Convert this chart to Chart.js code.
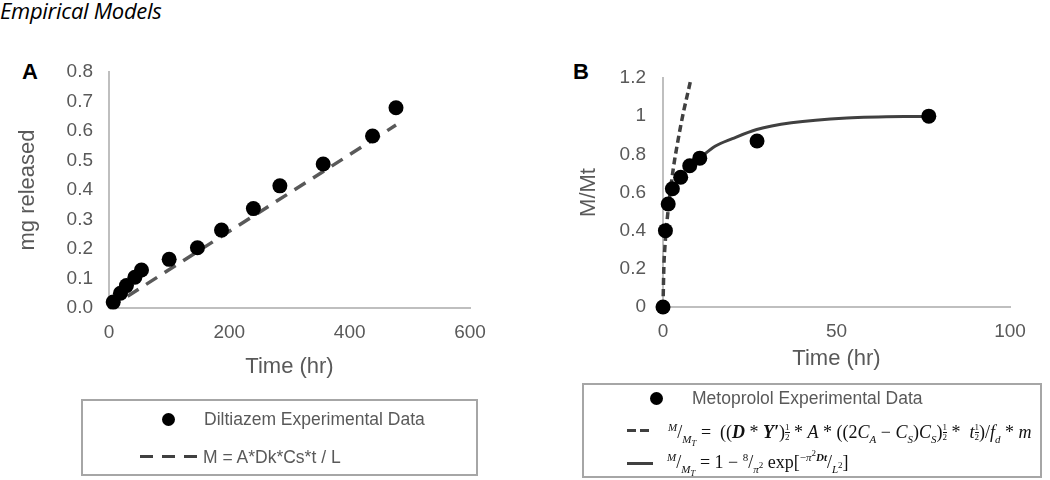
<!DOCTYPE html>
<html>
<head>
<meta charset="utf-8">
<title>Empirical Models</title>
<script src="https://cdn.jsdelivr.net/npm/chart.js"></script>
<style>
  body { margin: 0; background: #fff; width: 1050px; height: 480px; position: relative; overflow: hidden;
         font-family: "Liberation Sans", Arial, sans-serif; }
  #heading { position: absolute; left: 0; top: -5px; font-family: "Open Sans", sans-serif; font-style: italic;
             font-size: 22px; color: #000; letter-spacing: -0.3px; }
  .panel { position: absolute; font-weight: bold; font-size: 22px; color: #000; line-height: 24px; }
  canvas { position: absolute; top: 0; }
  .legend { position: absolute; border: 2px solid #a6a6a6; box-sizing: border-box; background: transparent; }
  .legend > div { position: absolute; white-space: nowrap; }
  .txt { color: #595959; font-size: 17.5px; line-height: 20px; }
  .dot { width: 13px; height: 13px; border-radius: 50%; background: #000; }
  .math { font-family: "Liberation Serif", "DejaVu Serif", serif; font-size: 18px; line-height: 20px; color: #111; }
  .math i { font-style: italic; }
  .math sup, .math sub { font-size: 11px; line-height: 0; }
  .math sub sub, .math sup sup, .math sub sup { font-size: 9px; }
  .sf { display: inline-flex; flex-direction: column; font-size: 9px; line-height: 9px; vertical-align: 8px; text-align: center; }
  .sf span:first-child { border-bottom: 1px solid #111; }
</style>
</head>
<body>
<div id="heading">Empirical Models</div>
<div class="panel" style="left:22px; top:60px;">A</div>
<div class="panel" style="left:573px; top:60px;">B</div>

<canvas id="chartA" width="520" height="400" style="left:0;"></canvas>
<canvas id="chartB" width="530" height="400" style="left:520px;"></canvas>

<div class="legend" style="left:81px; top:399px; width:397px; height:77px;">
  <div class="dot" style="left:79px; top:12px;"></div>
  <div class="txt" style="left:121px; top:8px;">Diltiazem Experimental Data</div>
  <div style="left:57px; top:54px; width:57px; height:3px;
       background: repeating-linear-gradient(90deg, #404040 0 13px, transparent 13px 22px);"></div>
  <div class="txt" style="left:120px; top:46px;">M = A*Dk*Cs*t / L</div>
</div>

<div class="legend" style="left:582px; top:383px; width:460px; height:95px;">
  <div class="dot" style="left:66px; top:7px;"></div>
  <div class="txt" style="left:108px; top:3px;">Metoprolol Experimental Data</div>
  <div style="left:43px; top:44px; width:22px; height:3px;
       background: repeating-linear-gradient(90deg, #404040 0 9px, transparent 9px 13px);"></div>
  <div class="math" style="left:84px; top:37px;">
    <sup><i>M</i></sup>/<sub><i>M<sub>T</sub></i></sub> = &nbsp;((<b><i>D</i></b> * <b><i>Y′</i></b>)<span class="sf"><span>1</span><span>2</span></span> * <i>A</i> * ((2<i>C<sub>A</sub></i> − <i>C<sub>S</sub></i>)<i>C<sub>S</sub></i>)<span class="sf"><span>1</span><span>2</span></span> * &nbsp;<i>t</i><span class="sf"><span>1</span><span>2</span></span>)/<i>f<sub>d</sub></i> * <i>m</i>
  </div>
  <div style="left:43px; top:77px; width:26px; height:3px; background:#404040;"></div>
  <div class="math" style="left:83px; top:67px;">
    <sup><i>M</i></sup>/<sub><i>M<sub>T</sub></i></sub> = 1 − <sup>8</sup>/<sub><i>π</i><sup>2</sup></sub> exp[<sup>−<i>π</i><sup>2</sup><b><i>Dt</i></b></sup>/<sub><i>L</i><sup>2</sup></sub>]
  </div>
</div>

<script>
// Panel A: Diltiazem
const timeA = [7, 19, 29, 43, 54, 100, 147, 187, 240, 284, 356, 438, 477];
const releasedA = [0.02, 0.05, 0.076, 0.104, 0.129, 0.165, 0.204, 0.264, 0.337, 0.414, 0.488, 0.583, 0.679];
const modelTimeA = [0, 477];
const modelA = [0, 0.62];
const xTicksA = [0, 200, 400, 600];
const yTicksA = [0, 0.1, 0.2, 0.3, 0.4, 0.5, 0.6, 0.7, 0.8];
const yLabelsA = ['0.0', '0.1', '0.2', '0.3', '0.4', '0.5', '0.6', '0.7', '0.8'];

// Panel B: Metoprolol
const timeB = [0, 0.7, 1.5, 2.7, 5.1, 7.7, 10.6, 27.1, 76.6];
const fractionB = [0, 0.40, 0.54, 0.62, 0.68, 0.74, 0.78, 0.87, 1.0];
const sqrtTimeB = [0, 0.25, 0.5, 1, 2, 3, 4, 5, 6, 7, 8];
const sqrtModelB = [0, 0.21, 0.30, 0.42, 0.59, 0.73, 0.84, 0.94, 1.03, 1.11, 1.19];
const fitTimeB = [10.6, 15, 20, 27, 37, 53, 77.7];
const fitModelB = [0.78, 0.842, 0.882, 0.93, 0.965, 0.99, 1.0];
const xTicksB = [0, 50, 100];
const yTicksB = [0, 0.2, 0.4, 0.6, 0.8, 1, 1.2];
const yLabelsB = ['0', '0.2', '0.4', '0.6', '0.8', '1', '1.2'];

const grey = '#595959';
const font = 'Liberation Sans';
const pts = (xs, ys) => xs.map((x, i) => ({ x: x, y: ys[i] }));

function axis(opts) {
  return {
    type: 'linear',
    min: opts.min, max: opts.max,
    afterBuildTicks: s => { s.ticks = opts.ticks.map(v => ({ value: v })); },
    afterFit: s => { if (opts.width) s.width = opts.width; if (opts.height) s.height = opts.height; },
    grid: { display: false, drawTicks: false },
    border: { display: true, color: '#bfbfbf', width: 2 },
    ticks: {
      color: grey, font: { family: font, size: 19 }, padding: opts.pad,
      maxRotation: 0, autoSkip: false,
      callback: (v, i) => opts.labels ? opts.labels[i] : String(v)
    },
    title: { display: true, text: opts.title, color: grey, font: { family: font, size: 22 }, padding: opts.titlePad }
  };
}

const common = {
  responsive: false,
  animation: false,
  events: [],
  plugins: { legend: { display: false }, tooltip: { enabled: false } }
};

new Chart(document.getElementById('chartA'), {
  type: 'scatter',
  data: {
    datasets: [
      { data: pts(timeA, releasedA), pointRadius: 7.5, backgroundColor: '#000', borderWidth: 0, clip: false, order: 0 },
      { data: pts(modelTimeA, modelA), showLine: true, pointRadius: 0, borderColor: grey, borderWidth: 3.5,
        borderDash: [13, 9], clip: false, order: 1 }
    ]
  },
  options: Object.assign({}, common, {
    layout: { padding: { left: 0, top: 72, right: 50, bottom: 0 } },
    scales: {
      x: axis({ min: 0, max: 600, ticks: xTicksA, height: 92, pad: 13, title: 'Time (hr)', titlePad: { top: 0, bottom: 20 } }),
      y: axis({ min: 0, max: 0.8, ticks: yTicksA, labels: yLabelsA, width: 109, pad: 16, title: 'mg released', titlePad: { top: 15, bottom: 0 } })
    }
  })
});

new Chart(document.getElementById('chartB'), {
  type: 'scatter',
  data: {
    datasets: [
      { data: pts(timeB, fractionB), pointRadius: 7.5, backgroundColor: '#000', borderWidth: 0, clip: false, order: 0 },
      { data: pts(sqrtTimeB, sqrtModelB), showLine: true, pointRadius: 0, borderColor: '#404040', borderWidth: 3.5,
        borderDash: [7, 4], tension: 0.4, cubicInterpolationMode: 'monotone', clip: false, order: 1 },
      { data: pts(fitTimeB, fitModelB), showLine: true, pointRadius: 0, borderColor: '#404040', borderWidth: 3,
        tension: 0.4, cubicInterpolationMode: 'monotone', clip: false, order: 2 }
    ]
  },
  options: Object.assign({}, common, {
    layout: { padding: { left: 0, top: 78, right: 40, bottom: 0 } },
    scales: {
      x: axis({ min: 0, max: 100, ticks: xTicksB, height: 93, pad: 13, title: 'Time (hr)', titlePad: { top: 0, bottom: 28 } }),
      y: axis({ min: 0, max: 1.2, ticks: yTicksB, labels: yLabelsB, width: 143, pad: 17, title: 'M/Mt', titlePad: { top: 56, bottom: 0 } })
    }
  })
});
</script>
</body>
</html>
